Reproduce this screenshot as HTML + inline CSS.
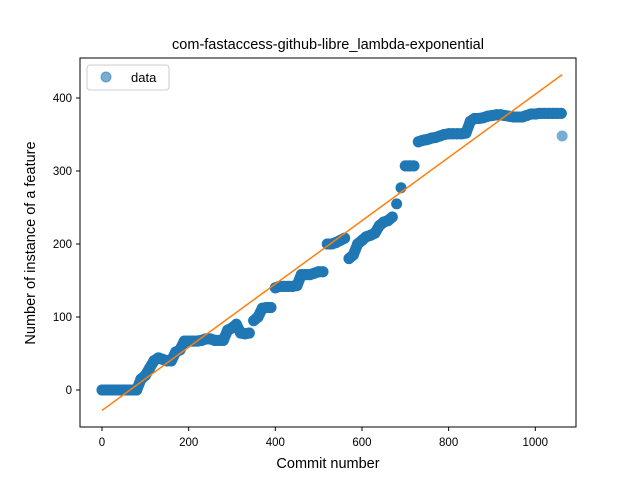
<!DOCTYPE html>
<html><head><meta charset="utf-8"><style>
body{margin:0;background:#fff}
svg{font-family:"Liberation Sans","DejaVu Sans",sans-serif}
</style></head><body>
<svg id="chart" width="640" height="480" xmlns="http://www.w3.org/2000/svg">
<rect width="640" height="480" fill="#fff"/>
<text x="328" y="49" font-size="14.5" text-anchor="middle">com-fastaccess-github-libre_lambda-exponential</text>
<g id="marks"></g>
<rect x="80" y="58" width="496" height="369" fill="none" stroke="#000" stroke-width="1"/>
<g id="ticks"></g>
<text x="328" y="468" font-size="14.5" text-anchor="middle">Commit number</text>
<text transform="translate(35,243) rotate(-90)" font-size="14.5" text-anchor="middle">Number of instance of a feature</text>
<g>
<rect x="87" y="65" width="82" height="25" rx="3" fill="#fff" fill-opacity="0.8" stroke="#ccc"/>
<circle cx="106" cy="77" r="5" fill="#1f77b4" fill-opacity="0.6" stroke="#1f77b4" stroke-opacity="0.6"/>
<text x="131" y="82" font-size="13">data</text>
</g>
</svg>
<script>
const commits = [0,10,20,30,40,50,60,70,80,90,100,110,120,130,140,150,160,170,180,190,200,210,220,230,240,250,260,270,280,290,300,310,320,330,340,350,360,370,380,390,400,410,420,430,440,450,460,470,480,490,500,510,520,530,540,550,560,570,580,590,600,610,620,630,640,650,660,670,680,690,700,710,720,730,740,750,760,770,780,790,800,810,820,830,840,850,860,870,880,890,900,910,920,930,940,950,960,970,980,990,1000,1010,1020,1030,1040,1050,1060,1062];
const counts = [0,0,0,0,0,0,0,0,0,15,20,30,40,44,42,40,40,52,55,67,67,67,67,68,70,70,68,68,68,82,85,90,78,77,78,95,100,112,113,113,140,142,142,142,142,143,158,158,158,160,162,162,200,200,202,205,208,180,185,200,205,210,212,215,225,230,232,237,255,277,307,307,307,340,342,343,345,346,348,350,351,351,351,351,352,368,372,372,373,375,376,377,377,376,375,374,374,374,376,378,378,379,379,379,379,379,379,348];
const fitX = [0,1062];
const fitY = [-28,432];
const xTicks = [0,200,400,600,800,1000];
const yTicks = [0,100,200,300,400];
const NS="http://www.w3.org/2000/svg";
const xs = v => 102 + v*0.4333;
const ys = v => 390 - v*0.73;
const marks=document.getElementById('marks');
for(let i=0;i<commits.length-1;i++){
  if(Math.abs(counts[i+1]-counts[i])<=16 && commits[i+1]-commits[i]>=5){
    const s=document.createElementNS(NS,'line');
    s.setAttribute('x1',xs(commits[i]));s.setAttribute('y1',ys(counts[i]));
    s.setAttribute('x2',xs(commits[i+1]));s.setAttribute('y2',ys(counts[i+1]));
    s.setAttribute('stroke','#1f77b4');s.setAttribute('stroke-width','11');s.setAttribute('stroke-linecap','round');
    
    
    marks.appendChild(s);
  }
}
commits.forEach((c,i)=>{
  const el=document.createElementNS(NS,'circle');
  const last = i===commits.length-1;
  el.setAttribute('cx',xs(c));el.setAttribute('cy',ys(counts[i]));el.setAttribute('r',5.5);
  el.setAttribute('fill','#1f77b4');el.setAttribute('fill-opacity',last?'0.6':'1');
  
  
  marks.appendChild(el);
});
const ln=document.createElementNS(NS,'line');
ln.setAttribute('x1',xs(fitX[0]));ln.setAttribute('y1',ys(fitY[0]));
ln.setAttribute('x2',xs(fitX[1]));ln.setAttribute('y2',ys(fitY[1]));
ln.setAttribute('stroke','#ff7f0e');ln.setAttribute('stroke-width','1.5');


marks.appendChild(ln);
const tk=document.getElementById('ticks');
xTicks.forEach(t=>{
  const l=document.createElementNS(NS,'line');
  l.setAttribute('x1',xs(t));l.setAttribute('x2',xs(t));l.setAttribute('y1',427);l.setAttribute('y2',431);l.setAttribute('stroke','#000');
  
  
  tk.appendChild(l);
  const tx=document.createElementNS(NS,'text');
  tx.setAttribute('x',xs(t));tx.setAttribute('y',446);tx.setAttribute('font-size','11.5');tx.setAttribute('text-anchor','middle');
  tx.textContent=t;
  
  
  tk.appendChild(tx);
});
yTicks.forEach(t=>{
  const l=document.createElementNS(NS,'line');
  l.setAttribute('x1',76);l.setAttribute('x2',80);l.setAttribute('y1',ys(t));l.setAttribute('y2',ys(t));l.setAttribute('stroke','#000');
  
  
  tk.appendChild(l);
  const tx=document.createElementNS(NS,'text');
  tx.setAttribute('x',72);tx.setAttribute('y',ys(t)+4);tx.setAttribute('font-size','11.5');tx.setAttribute('text-anchor','end');
  tx.textContent=t;
  
  
  tk.appendChild(tx);
});
</script>
</body></html>
